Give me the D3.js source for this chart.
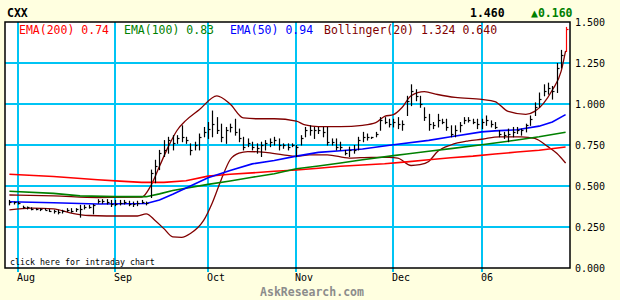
<!DOCTYPE html>
<html>
<head>
<meta charset="utf-8">
<script src="https://cdn.jsdelivr.net/npm/d3@7"></script>
<style>
	body { margin: 0; background: #ffffe0; }
	svg text { font-family: "DejaVu Sans Mono", monospace; }
</style>
</head>
<body>
<div id="chart"></div>
<script>
// CXX daily bars, Jul 28 2005 .. Jan 30 2006 (trading day index)
const symbol = "CXX";
const lastPrice = "1.460";
const lastChange = "\u25B20.160";

const highs = [
	0.415,0.405,0.405,0.38,0.375,0.37,0.365,0.365,0.365,0.36,
	0.355,0.355,0.355,0.365,0.365,0.365,0.385,0.385,0.385,0.39,
	0.42,0.42,0.42,0.415,0.415,0.415,0.415,0.41,0.405,0.41,
	0.415,0.405,0.60,0.66,0.72,0.78,0.80,0.81,0.81,0.87,
	0.80,0.76,0.77,0.82,0.86,0.89,0.96,0.92,0.88,0.86,
	0.88,0.91,0.85,0.80,0.79,0.77,0.76,0.77,0.78,0.79,
	0.80,0.79,0.76,0.76,0.76,0.75,0.81,0.86,0.87,0.86,
	0.86,0.86,0.86,0.79,0.79,0.77,0.72,0.74,0.75,0.80,
	0.83,0.82,0.80,0.83,0.92,0.92,0.91,0.91,0.92,0.90,
	1.05,1.12,1.09,1.05,0.98,0.94,0.89,0.94,0.91,0.91,
	0.87,0.87,0.89,0.92,0.92,0.91,0.91,0.91,0.93,0.90,
	0.89,0.84,0.83,0.85,0.86,0.86,0.85,0.88,0.93,1.01,
	1.07,1.12,1.13,1.11,1.25,1.33,1.47
];
const lows = [
	0.385,0.39,0.39,0.365,0.36,0.355,0.355,0.35,0.355,0.345,
	0.335,0.33,0.335,0.345,0.34,0.345,0.31,0.36,0.365,0.33,
	0.395,0.395,0.39,0.375,0.38,0.385,0.39,0.38,0.375,0.38,
	0.395,0.385,0.43,0.52,0.60,0.68,0.70,0.72,0.76,0.77,
	0.76,0.69,0.72,0.72,0.80,0.79,0.80,0.82,0.77,0.76,
	0.83,0.81,0.77,0.72,0.74,0.72,0.70,0.68,0.72,0.74,
	0.75,0.72,0.73,0.72,0.74,0.68,0.75,0.80,0.81,0.79,
	0.82,0.80,0.75,0.75,0.72,0.72,0.69,0.68,0.70,0.72,
	0.77,0.78,0.79,0.80,0.84,0.88,0.86,0.86,0.85,0.84,
	0.93,0.99,1.02,0.98,0.90,0.84,0.85,0.86,0.88,0.84,
	0.80,0.80,0.83,0.88,0.89,0.88,0.85,0.85,0.87,0.86,
	0.85,0.80,0.79,0.77,0.80,0.82,0.81,0.83,0.87,0.93,
	0.98,1.05,1.06,1.03,1.07,1.22,1.32
];
const closes = [
	0.40,0.40,0.395,0.37,0.37,0.36,0.36,0.36,0.355,0.35,
	0.345,0.34,0.345,0.355,0.35,0.36,0.36,0.375,0.375,0.385,
	0.41,0.41,0.40,0.39,0.39,0.395,0.40,0.39,0.39,0.395,
	0.40,0.395,0.58,0.62,0.70,0.72,0.78,0.76,0.79,0.80,
	0.78,0.72,0.75,0.80,0.83,0.85,0.88,0.84,0.80,0.84,
	0.86,0.83,0.79,0.74,0.76,0.74,0.73,0.75,0.76,0.77,
	0.78,0.75,0.75,0.74,0.75,0.74,0.79,0.84,0.84,0.84,
	0.84,0.83,0.77,0.77,0.74,0.74,0.70,0.72,0.72,0.78,
	0.80,0.80,0.80,0.82,0.90,0.89,0.88,0.89,0.88,0.88,
	1.02,1.08,1.05,1.00,0.92,0.88,0.87,0.90,0.89,0.86,
	0.82,0.84,0.87,0.90,0.90,0.89,0.88,0.89,0.90,0.88,
	0.86,0.82,0.81,0.82,0.83,0.84,0.84,0.87,0.91,0.98,
	1.03,1.08,1.10,1.08,1.22,1.30,1.46
];

// indicator lines: [day, value]
const ema200 = [[0,0.572],[10,0.558],[20,0.538],[25,0.530],[30,0.522],[35,0.522],[40,0.532],
	[45,0.560],[50,0.572],[55,0.580],[60,0.590],[65,0.598],[70,0.608],[75,0.620],[80,0.628],
	[85,0.636],[90,0.647],[95,0.660],[100,0.672],[105,0.682],[110,0.695],[115,0.707],[120,0.718],[126,0.738]];
const ema100 = [[0,0.468],[10,0.455],[16,0.440],[24,0.435],[31,0.435],[34,0.452],[37,0.473],
	[45,0.510],[50,0.530],[55,0.553],[60,0.575],[65,0.605],[70,0.622],[75,0.640],[80,0.660],
	[87,0.685],[90,0.695],[95,0.712],[100,0.728],[107,0.752],[110,0.762],[115,0.780],[120,0.800],[126,0.828]];
const ema50 = [[0,0.404],[10,0.398],[20,0.390],[31,0.393],[34,0.415],[37,0.450],[45,0.550],
	[50,0.595],[55,0.635],[60,0.655],[65,0.682],[70,0.705],[75,0.715],[80,0.726],[87,0.752],
	[95,0.778],[100,0.800],[107,0.830],[110,0.836],[115,0.843],[120,0.865],[123,0.890],[126,0.935]];
const bollUpper = [[0,0.445],[10,0.440],[20,0.430],[30,0.432],[32,0.500],[34,0.620],[36,0.740],
	[38,0.840],[40,0.900],[43,0.965],[47,1.050],[50,1.000],[53,0.915],[56,0.910],[60,0.910],
	[65,0.895],[67,0.872],[70,0.862],[75,0.862],[80,0.870],[83,0.886],[85,0.925],[87,0.935],
	[89,0.980],[91,1.050],[94,1.075],[97,1.058],[101,1.040],[107,1.028],[110,1.015],[113,0.955],
	[117,0.937],[119,0.955],[121,1.004],[123,1.085],[125,1.200],[126,1.324]];
const bollLower = [[0,0.354],[5,0.365],[10,0.360],[14,0.335],[18,0.320],[22,0.317],[29,0.317],
	[31,0.330],[33,0.290],[35,0.240],[37,0.190],[39,0.187],[41,0.210],[44,0.290],[46,0.400],
	[48,0.540],[50,0.660],[52,0.700],[54,0.710],[58,0.705],[62,0.690],[65,0.680],[68,0.690],
	[72,0.690],[77,0.670],[82,0.675],[86,0.675],[88,0.670],[91,0.625],[93,0.630],[95,0.650],
	[97,0.710],[100,0.750],[104,0.775],[107,0.785],[111,0.800],[116,0.800],[119,0.790],
	[122,0.740],[124,0.700],[126,0.640]];

const monthLabels = ["Aug", "Sep", "Oct", "Nov", "Dec", "06"];
const monthStarts = [2, 24, 45, 65, 87, 107];
const yTicks = [0, 0.25, 0.5, 0.75, 1.0, 1.25, 1.5];

const legend = [
	{ text: "EMA(200) 0.74", color: "#ff0000" },
	{ text: "EMA(100) 0.83", color: "#008000" },
	{ text: "EMA(50) 0.94", color: "#0000ff" },
	{ text: "Bollinger(20) 1.324 0.640", color: "#800000" }
];

{
	const width = 620, height = 300;
	const plot = { left: 5, right: 570, top: 22, bottom: 268 };
	const gridColor = "#00c4f4";

	const svg = d3.select("#chart").append("svg")
		.attr("width", width)
		.attr("height", height)
		.style("display", "block");

	svg.append("rect")
		.attr("width", width).attr("height", height)
		.attr("fill", "#ffffe0");

	svg.append("rect")
		.attr("x", plot.left).attr("y", plot.top)
		.attr("width", plot.right - plot.left).attr("height", plot.bottom - plot.top)
		.attr("fill", "#ffffff");

	const x = d3.scaleLinear()
		.domain([-1, closes.length])
		.range([plot.left, plot.right]);

	const y = d3.scaleLinear()
		.domain([0, 1.5])
		.range([plot.bottom, plot.top]);

	// grid
	const grid = svg.append("g").attr("stroke", gridColor).attr("stroke-width", 2);
	grid.selectAll("line.h")
		.data(yTicks.slice(1, -1))
		.enter().append("line")
			.attr("x1", plot.left).attr("x2", plot.right)
			.attr("y1", d => Math.round(y(d))).attr("y2", d => Math.round(y(d)));
	grid.selectAll("line.v")
		.data(monthStarts)
		.enter().append("line")
			.attr("x1", d => Math.round(x(d))).attr("x2", d => Math.round(x(d)))
			.attr("y1", plot.top).attr("y2", plot.bottom + 4);

	// indicator lines
	const line = d3.line()
		.x(d => x(d[0]))
		.y(d => y(d[1]));
	const smooth = d3.line()
		.x(d => x(d[0]))
		.y(d => y(d[1]))
		.curve(d3.curveMonotoneX);

	const series = [
		{ data: bollUpper, color: "#800000", w: 1.3, gen: smooth },
		{ data: bollLower, color: "#800000", w: 1.3, gen: smooth },
		{ data: ema200, color: "#ff0000", w: 1.6, gen: line },
		{ data: ema100, color: "#008000", w: 1.6, gen: line },
		{ data: ema50, color: "#0000ff", w: 1.6, gen: line }
	];
	svg.append("g").selectAll("path")
		.data(series)
		.enter().append("path")
			.attr("d", d => d.gen(d.data))
			.attr("fill", "none")
			.attr("stroke", d => d.color)
			.attr("stroke-width", d => d.w);

	// price bars
	const last = closes.length - 1;
	const bars = svg.append("g").attr("stroke-width", 1.2);
	bars.selectAll("g")
		.data(closes.map((c, i) => ({ i, c, h: highs[i], l: lows[i] })))
		.enter().append("g")
			.attr("stroke", d => d.i === last ? "#ff0000" : "#000000")
			.each(function (d) {
				const g = d3.select(this);
				const px = Math.round(x(d.i)) + 0.5;
				g.append("line")
					.attr("x1", px).attr("x2", px)
					.attr("y1", y(d.h)).attr("y2", y(d.l) + 0.5);
				g.append("line")
					.attr("x1", px).attr("x2", px + 2)
					.attr("y1", Math.round(y(d.c)) + 0.5).attr("y2", Math.round(y(d.c)) + 0.5);
			});

	// frame
	svg.append("rect")
		.attr("x", plot.left).attr("y", plot.top)
		.attr("width", plot.right - plot.left).attr("height", plot.bottom - plot.top)
		.attr("fill", "none")
		.attr("stroke", "#000")
		.attr("stroke-width", 1.5);

	// axes text
	svg.append("g").selectAll("text")
		.data(yTicks)
		.enter().append("text")
			.attr("x", plot.right + 5)
			.attr("y", d => y(d) + 4)
			.attr("font-size", 10)
			.attr("fill", "#000")
			.text(d3.format(".3f"));

	svg.append("g").selectAll("text")
		.data(monthStarts)
		.enter().append("text")
			.attr("x", d => Math.round(x(d)) - 1)
			.attr("y", 281)
			.attr("font-size", 10)
			.attr("fill", "#000")
			.text((d, i) => monthLabels[i]);

	// header
	svg.append("text").attr("x", 7).attr("y", 17)
		.attr("font-size", 11.5).attr("font-weight", "bold").text(symbol);
	svg.append("text").attr("x", 470).attr("y", 17)
		.attr("font-size", 11.5).attr("font-weight", "bold").text(lastPrice);
	svg.append("text").attr("x", 531).attr("y", 17)
		.attr("font-size", 11.5).attr("font-weight", "bold")
		.attr("fill", "#008000").text(lastChange);

	const legendX = [19, 124, 230, 324];
	svg.append("g").selectAll("text")
		.data(legend)
		.enter().append("text")
			.attr("x", (d, i) => legendX[i])
			.attr("y", 34)
			.attr("font-size", 11.5)
			.attr("fill", d => d.color)
			.text(d => d.text);

	svg.append("text").attr("x", 10).attr("y", 265)
		.attr("font-size", 8.3).attr("fill", "#000")
		.text("click here for intraday chart");

	svg.append("text").attr("x", 312).attr("y", 296)
		.attr("text-anchor", "middle")
		.attr("font-size", 11.5).attr("font-weight", "bold")
		.attr("fill", "#8c8c8c")
		.text("AskResearch.com");
}
</script>
</body>
</html>
